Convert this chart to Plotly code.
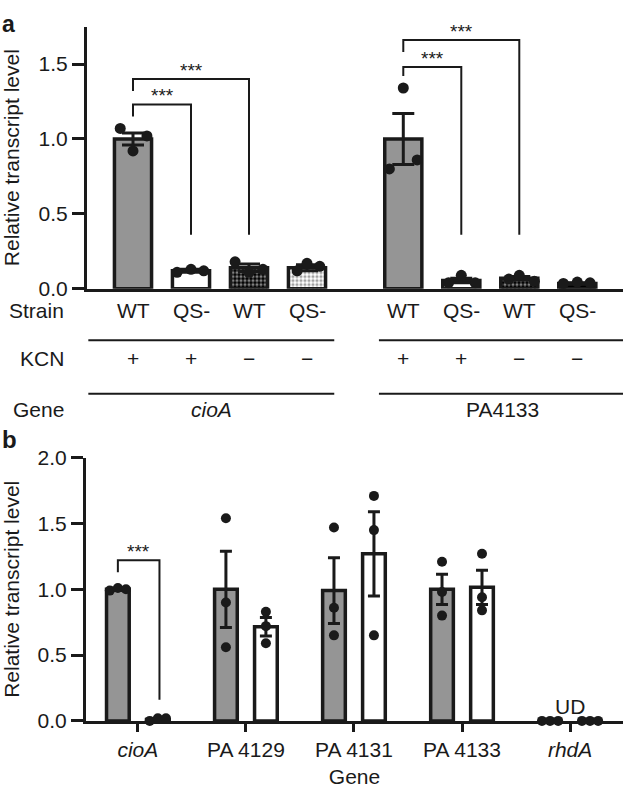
import plotly.graph_objects as go

# ---------------- Data: panel a ----------------
a_strain = ["WT", "QS-", "WT", "QS-", "WT", "QS-", "WT", "QS-"]
a_kcn = ["+", "+", "\u2212", "\u2212", "+", "+", "\u2212", "\u2212"]
a_genes = ["<i>cioA</i>", "PA4133"]
a_mean = [1.00, 0.12, 0.14, 0.14, 1.00, 0.055, 0.07, 0.035]
a_sem = [0.04, 0.01, 0.025, 0.02, 0.17, 0.015, 0.012, 0.005]
a_points = [
    [1.07, 1.02, 0.92],
    [0.11, 0.13, 0.12],
    [0.18, 0.13, 0.11],
    [0.12, 0.17, 0.15],
    [1.34, 0.86, 0.80],
    [0.04, 0.09, 0.04],
    [0.065, 0.09, 0.05],
    [0.035, 0.045, 0.04],
]
# significance comparisons (bar index pairs)
a_sig = [(0, 1), (0, 2), (4, 5), (4, 6)]
a_sig_label = ["***", "***", "***", "***"]

# ---------------- Data: panel b ----------------
b_genes = ["<i>cioA</i>", "PA 4129", "PA 4131", "PA 4133", "<i>rhdA</i>"]
b_gray_mean = [1.00, 1.00, 0.99, 1.00, None]
b_gray_sem = [0.01, 0.29, 0.25, 0.115, 0]
b_gray_points = [[0.99, 1.01, 1.00], [1.54, 0.90, 0.56], [1.47, 0.86, 0.65],
                 [1.21, 0.98, 0.80], [0.0, 0.0, 0.0]]
b_white_mean = [0.01, 0.715, 1.27, 1.015, None]
b_white_sem = [0.006, 0.07, 0.32, 0.13, 0]
b_white_points = [[0.0, 0.02, 0.02], [0.83, 0.72, 0.59], [1.71, 1.45, 0.65],
                  [1.27, 0.94, 0.84], [0.0, 0.0, 0.0]]

# ---------------- Styles ----------------
W, H = 626, 795
FONT = "Liberation Sans, Arial, Helvetica, sans-serif"
GRAY = "#959595"
INK = "#1a1a1a"
FS = 21


def px(x):
    return x / W


def py(y):
    return 1 - y / H


GROUP_GAP = 0.66
a_x = [i + (GROUP_GAP if i >= 4 else 0) for i in range(len(a_mean))]
a_jit = [[-0.22, 0.24, 0], [-0.24, 0, 0.22], [-0.24, 0.24, 0], [-0.17, 0, 0.22],
         [0, 0.24, -0.24], [-0.22, 0, 0.24], [-0.18, 0, 0.26], [-0.24, 0, 0.22]]
a_fill = [GRAY, "white", "black", "white", GRAY, "white", "black", "black"]
a_shape = ["", "", ".", ".", "", "", ".", ""]
a_fg = ["black", "black", "#9a9a9a", "black", "black", "black", "#cccccc", "black"]
a_bg = [GRAY, "white", "black", "white", GRAY, "white", "black", "black"]

fig = go.Figure()

# panel a bars
fig.add_trace(go.Bar(
    x=a_x, y=a_mean, width=0.64, xaxis="x", yaxis="y",
    marker=dict(color=a_fill, line=dict(color=INK, width=3.5),
                pattern=dict(shape=a_shape, fgcolor=a_fg, bgcolor=a_bg,
                             size=4, solidity=0.5)),
    error_y=dict(type="data", array=a_sem, color=INK, thickness=3, width=11),
    showlegend=False,
))
# panel a points
pxs, pys = [], []
for i, pts in enumerate(a_points):
    for j, v in enumerate(pts):
        pxs.append(a_x[i] + a_jit[i][j])
        pys.append(v)
fig.add_trace(go.Scatter(x=pxs, y=pys, mode="markers", xaxis="x", yaxis="y",
                         marker=dict(color=INK, size=11), showlegend=False))

# panel b bars
OFF = 0.185
b_idx = list(range(len(b_genes)))
fig.add_trace(go.Bar(
    x=[i - OFF for i in b_idx], y=b_gray_mean, width=0.21, xaxis="x2", yaxis="y2",
    marker=dict(color=GRAY, line=dict(color=INK, width=3.5)),
    error_y=dict(type="data", array=b_gray_sem, color=INK, thickness=3, width=6),
    showlegend=False,
))
fig.add_trace(go.Bar(
    x=[i + OFF for i in b_idx], y=b_white_mean, width=0.21, xaxis="x2", yaxis="y2",
    marker=dict(color="white", line=dict(color=INK, width=3.5)),
    error_y=dict(type="data", array=b_white_sem, color=INK, thickness=3, width=6),
    showlegend=False,
))
b_jit = [[-0.075, 0, 0.075], [0, 0, 0], [0, 0, 0], [0, 0, 0], [-0.075, 0, 0.075]]
bx, by = [], []
for i in b_idx:
    for j, v in enumerate(b_gray_points[i]):
        bx.append(i - OFF + b_jit[i][j]); by.append(v)
    for j, v in enumerate(b_white_points[i]):
        bx.append(i + OFF + b_jit[i][j]); by.append(v)
fig.add_trace(go.Scatter(x=bx, y=by, mode="markers", xaxis="x2", yaxis="y2",
                         marker=dict(color=INK, size=10), showlegend=False,
                         cliponaxis=False))

shapes = []
annotations = []

# significance brackets panel a
a_bracket_y = [1.23, 1.40, 1.48, 1.66]
a_left_leg = [1.15, 1.32, 1.42, 1.58]
for k, (i, j) in enumerate(a_sig):
    x0, x1 = a_x[i], a_x[j]
    yb = a_bracket_y[k]
    path = f"M {x0},{a_left_leg[k]} L {x0},{yb} L {x1},{yb} L {x1},0.36"
    shapes.append(dict(type="path", path=path, xref="x", yref="y",
                       line=dict(color=INK, width=2)))
    annotations.append(dict(x=(x0 + x1) / 2, y=yb, xref="x", yref="y",
                            text=a_sig_label[k], showarrow=False, yanchor="bottom",
                            yshift=-4, font=dict(size=19, color=INK, family=FONT)))

# significance bracket panel b
path = f"M {-OFF},1.13 L {-OFF},1.22 L 0.2,1.22 L 0.2,0.16"
shapes.append(dict(type="path", path=path, xref="x2", yref="y2",
                   line=dict(color=INK, width=2)))
annotations.append(dict(x=0.0075, y=1.22, xref="x2", yref="y2", text="***",
                        showarrow=False, yanchor="bottom", yshift=-4,
                        font=dict(size=19, color=INK, family=FONT)))
annotations.append(dict(x=4, y=0.11, xref="x2", yref="y2", text="UD",
                        showarrow=False, font=dict(size=FS, color=INK, family=FONT)))

# table under panel a
ROW_STRAIN, ROW_KCN, ROW_GENE = 307, 357, 409
for i in range(len(a_strain)):
    annotations.append(dict(x=a_x[i], y=py(ROW_STRAIN), xref="x", yref="paper",
                            text=a_strain[i], showarrow=False,
                            font=dict(size=FS, color=INK, family=FONT)))
    annotations.append(dict(x=a_x[i], y=py(ROW_KCN), xref="x", yref="paper",
                            text=a_kcn[i], showarrow=False,
                            font=dict(size=FS, color=INK, family=FONT)))
for lab, yy in (("Strain", ROW_STRAIN), ("KCN", ROW_KCN), ("Gene", ROW_GENE)):
    annotations.append(dict(x=px(66), y=py(yy), xref="paper", yref="paper",
                            text=lab, showarrow=False, xanchor="right",
                            font=dict(size=FS, color=INK, family=FONT)))
line_spans = [(-0.77, 3.47), (4.24, 8.5)]
for g, (x0, x1) in enumerate(line_spans):
    for ly in (338, 393):
        shapes.append(dict(type="line", x0=x0, x1=x1, y0=py(ly), y1=py(ly),
                           xref="x", yref="paper", line=dict(color=INK, width=2)))
    annotations.append(dict(x=(x0 + x1) / 2, y=py(ROW_GENE), xref="x", yref="paper",
                            text=a_genes[g], showarrow=False,
                            font=dict(size=FS, color=INK, family=FONT)))

# panel letters
annotations.append(dict(x=0, y=1, xref="paper", yref="paper", text="<b>a</b>",
                        showarrow=False, xanchor="left", yanchor="top", yshift=3,
                        font=dict(size=23, color=INK, family=FONT)))
annotations.append(dict(x=0, y=py(440), xref="paper", yref="paper", text="<b>b</b>",
                        showarrow=False, xanchor="left", yanchor="middle",
                        font=dict(size=24, color=INK, family=FONT)))

axis_common = dict(showgrid=False, zeroline=False, showline=True, linecolor=INK,
                   linewidth=3, tickcolor=INK, tickwidth=3,
                   tickfont=dict(size=FS, color=INK, family=FONT))

fig.update_layout(
    width=W, height=H,
    margin=dict(l=0, r=0, t=0, b=0),
    paper_bgcolor="white", plot_bgcolor="white",
    font=dict(family=FONT, color=INK),
    barmode="overlay",
    shapes=shapes, annotations=annotations,
    xaxis=dict(axis_common, domain=[px(87), px(623)], range=[-0.793, 8.448],
               showticklabels=False, ticks="", anchor="y", fixedrange=True),
    yaxis=dict(axis_common, domain=[py(285), py(15)], range=[0, 1.75],
               tickvals=[0, 0.5, 1.0, 1.5], tickformat=".1f", ticks="outside",
               ticklen=12, anchor="x",
               title=dict(text="Relative transcript level", standoff=19,
                          font=dict(size=FS, color=INK, family=FONT))),
    xaxis2=dict(axis_common, domain=[px(86), px(623)], range=[-0.48, 4.49],
                tickvals=b_idx, ticktext=b_genes, ticks="outside", ticklen=8,
                anchor="y2",
                title=dict(text="Gene", standoff=10,
                           font=dict(size=FS, color=INK, family=FONT))),
    yaxis2=dict(axis_common, domain=[py(730), py(459)], range=[0, 2.0],
                tickvals=[0, 0.5, 1.0, 1.5, 2.0], tickformat=".1f", ticks="outside",
                ticklen=12, anchor="x2",
                title=dict(text="Relative transcript level", standoff=19,
                           font=dict(size=FS, color=INK, family=FONT))),
)

fig.write_html("out.html", config={"displayModeBar": False},
               post_script="document.body.style.margin='0';")
